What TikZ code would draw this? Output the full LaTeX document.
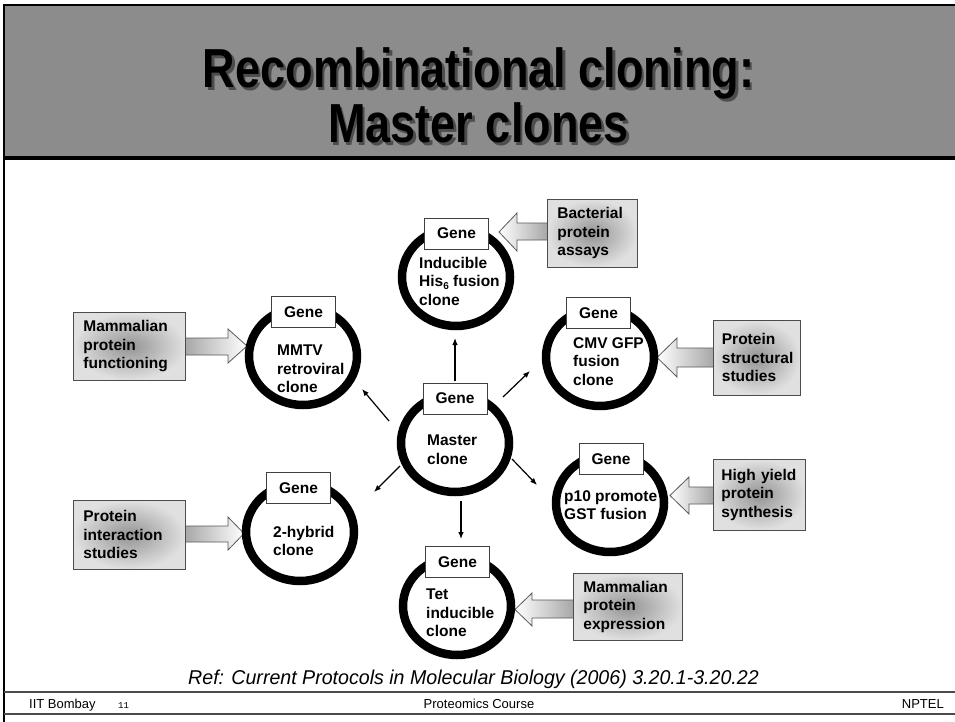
\documentclass[tikz,border=0pt]{standalone}
\usepackage{fontspec}
\setmainfont{Liberation Sans}
\setmonofont{Liberation Mono}
\usetikzlibrary{shapes.geometric,arrows.meta}
\definecolor{hdr}{gray}{0.55}
\newcommand{\lblfont}{\fontsize{15.5}{18.5}\selectfont\bfseries}
\newcommand{\ttlfont}{\fontsize{55}{55}\selectfont\bfseries}
\newcommand{\narrow}[1]{\scalebox{0.82}[1]{#1}}
\begin{document}
\begin{tikzpicture}[x=1pt,y=-1pt,
  ring/.style={ellipse, draw=black, line width=8.5pt, minimum width=108pt, minimum height=98pt, inner sep=0pt},
  genebox/.style={rectangle, draw=black!75, line width=0.8pt, fill=white, minimum width=64pt, minimum height=31pt, inner sep=0pt, font=\lblfont},
  lbl/.style={anchor=north west, inner sep=0pt, align=left, font=\lblfont},
  infobox/.style={rectangle, draw=black!70, line width=0.8pt, inner color=black!42, outer color=black!12, inner xsep=10pt, inner ysep=0pt, align=left, font=\lblfont, anchor=north west},
  barrowR/.style={draw=black!65, line width=0.8pt, left color=black!35, right color=white},
  barrowL/.style={draw=black!65, line width=0.8pt, left color=white, right color=black!35},
  conn/.style={line width=1.2pt, -{Latex[length=7pt,width=5.5pt]}},
  ttl/.style={anchor=north, inner sep=0pt, align=center, font=\ttlfont},
  foot/.style={anchor=base, inner sep=0pt, font=\fontsize{13}{13}\selectfont},
]
\useasboundingbox (0,0) rectangle (955,722);
\fill[white] (0,0) rectangle (955,722);
% header
\fill[hdr] (4,5) rectangle (956,157);
\draw[line width=1.5pt] (956,5) -- (4,5) -- (4,722);
\draw[line width=3.5pt] (4,158) -- (956,158);
\node[ttl, text=black!80, opacity=0.7] (titleshadow) at (481,50) {\narrow{Recombinational cloning:}\\\narrow{Master clones}};
\node[ttl] (title) at (478.5,47.5) {\narrow{Recombinational cloning:}\\\narrow{Master clones}};

% block arrows
\draw[barrowL] (548,223) -- (517,223) -- (517,213) -- (499,232) -- (517,251) -- (517,240) -- (548,240);
\draw[barrowR] (184,338) -- (228,338) -- (228,329) -- (247,346) -- (228,363) -- (228,355) -- (184,355);
\draw[barrowR] (184,526) -- (228,526) -- (228,517) -- (244,533.5) -- (228,550) -- (228,542) -- (184,542);
\draw[barrowL] (714,348) -- (677,348) -- (677,338) -- (657,357.5) -- (677,377) -- (677,367) -- (714,367);
\draw[barrowL] (714,487) -- (689,487) -- (689,477) -- (670,495.5) -- (689,514) -- (689,504) -- (714,504);
\draw[barrowL] (574,600) -- (532,600) -- (532,593) -- (515,609.5) -- (532,626) -- (532,618) -- (574,618);

% info boxes
\node[infobox, text width=70pt, minimum height=68pt] (bact) at (547,199) {Bacterial\\protein\\assays};
\node[infobox, text width=92pt, minimum height=68pt] (mfunc) at (73,312) {Mammalian\\protein\\functioning};
\node[infobox, text width=92pt, minimum height=69pt] (pint) at (73,500) {Protein\\interaction\\studies};
\node[infobox, text width=70pt, inner xsep=8.5pt, minimum height=75pt] (pstruct) at (713,320) {Protein\\structural\\studies};
\node[infobox, text width=76pt, inner xsep=8pt, minimum height=71pt] (hyield) at (713,459) {High yield\\protein\\synthesis};
\node[infobox, text width=89pt, minimum height=67pt] (mexpr) at (573,573) {Mammalian\\protein\\expression};

% rings
\node[ring] (master) at (455,443) {};
\node[ring] (induc) at (456,277) {};
\node[ring] (mmtv) at (303,356) {};
\node[ring] (cmv) at (600,357) {};
\node[ring] (ptenp) at (610,503) {};
\node[ring] (hyb) at (300,532) {};
\node[ring] (tet) at (457,606) {};

% gene boxes
\node[genebox] (gmaster) at (455,398.5) {Gene};
\node[genebox] (ginduc) at (456.5,233.5) {Gene};
\node[genebox] (gmmtv) at (303.5,312) {Gene};
\node[genebox] (gcmv) at (598.5,313) {Gene};
\node[genebox] (gpten) at (611,459) {Gene};
\node[genebox] (ghyb) at (298.5,488) {Gene};
\node[genebox] (gtet) at (457.5,562) {Gene};

% ring labels
\node[lbl] (lmaster) at (427,435) {Master\\clone};
\node[lbl] (linduc) at (419,257) {Inducible\\His\raisebox{-2.5pt}{\fontsize{10}{10}\selectfont 6} fusion\\clone};
\node[lbl] (lmmtv) at (277,345) {MMTV\\retroviral\\clone};
\node[lbl] (lcmv) at (573,337) {CMV GFP\\fusion\\clone};
\node[lbl] (lpten) at (564,490) {p10 promote\\GST fusion};
\node[lbl] (lhyb) at (273,526) {2-hybrid\\clone};
\node[lbl] (ltet) at (426,589) {Tet\\inducible\\clone};

% connectors
\coordinate (cu0) at (455,381); \coordinate (cu1) at (455,338);
\coordinate (cl0) at (389,421); \coordinate (cl1) at (362,389);
\coordinate (cr0) at (503,397); \coordinate (cr1) at (530,371);
\coordinate (dr0) at (512,459); \coordinate (dr1) at (537,485);
\coordinate (cd0) at (461,501); \coordinate (cd1) at (461,539);
\coordinate (dl0) at (400,466); \coordinate (dl1) at (374,492);
\draw[conn] (cu0) -- (cu1);
\draw[conn] (cl0) -- (cl1);
\draw[conn] (cr0) -- (cr1);
\draw[conn] (dr0) -- (dr1);
\draw[conn] (cd0) -- (cd1);
\draw[conn] (dl0) -- (dl1);

% reference
\node[anchor=base, inner sep=0pt, font=\fontsize{20}{20}\selectfont\itshape] (ref) at (473.5,684) {\scalebox{0.98}[1]{Ref: Current Protocols in Molecular Biology (2006) 3.20.1-3.20.22}};

% footer
\draw[black!70, line width=1.2pt] (4,692) -- (956,692);
\draw[black!70, line width=1.2pt] (4,714) -- (956,714);
\node[foot, anchor=base west] (fiit) at (29,708) {IIT Bombay};
\node[foot, anchor=base west, font=\ttfamily\fontsize{9}{9}\selectfont] (fnum) at (118,708) {11};
\node[foot] (fcourse) at (479,708) {Proteomics Course};
\node[foot, anchor=base east] (fnptel) at (944,708) {NPTEL};
\end{tikzpicture}
\end{document}
